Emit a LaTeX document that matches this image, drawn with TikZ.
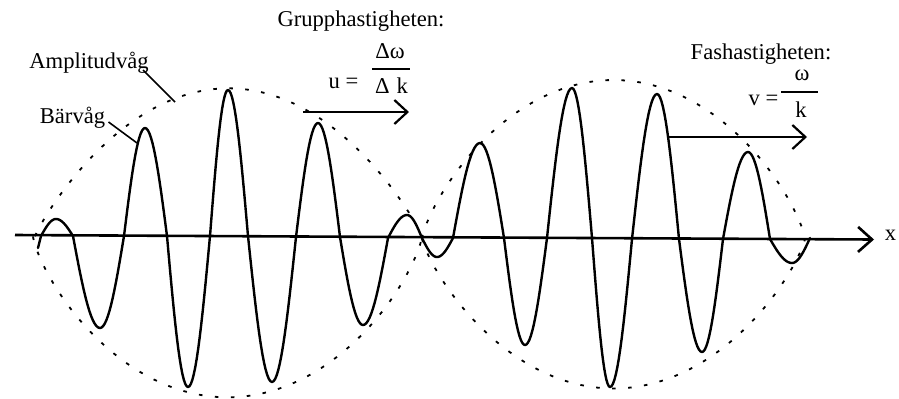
\documentclass[tikz,border=0pt]{standalone}
\usepackage{fontspec}
\setmainfont{Liberation Serif}
\usetikzlibrary{arrows.meta,calc}
\begin{document}
\begin{tikzpicture}[x=0.5pt,y=-0.5pt,
  lbl/.style={inner sep=0pt, anchor=base, font=\fontsize{11.3}{13}\selectfont},
  wave/.style={line width=1.2pt, line join=round, line cap=round},
  env/.style={line width=0.9pt, dash pattern=on 1.8pt off 6.2pt},
  axisline/.style={line width=1.3pt, -{Straight Barb[length=7pt,width=12.5pt]}},
  vel/.style={line width=1.1pt, -{Straight Barb[length=6.5pt,width=12pt]}},
  leader/.style={line width=0.8pt},
  fracbar/.style={line width=0.7pt}]
\useasboundingbox (0,0) rectangle (899,398);

% envelope (amplitude wave)
\draw[env] plot[domain=0.5:179.5, samples=140, variable=\t]
  ({228.5-193.5*cos(\t)}, {236.3-148*(sin(\t))^1.8});
\draw[env] plot[domain=0.5:179.5, samples=140, variable=\t]
  ({227.5-194.5*cos(\t)}, {236.3+161*(sin(\t))^1.52});
\draw[env] plot[domain=0.5:179.5, samples=140, variable=\t]
  ({613.5-191.5*cos(\t)}, {238.5-158.5*(sin(\t))^1.55});
\draw[env] plot[domain=0.5:179.5, samples=140, variable=\t]
  ({613.5-191.5*cos(\t)}, {238.5+150*(sin(\t))^1.6});

% x axis
\coordinate (ax0) at (15,235);
\coordinate (ax1) at (874,239.5);
\draw[axisline] (ax0) -- (ax1);
\node[lbl] (xlab) at (890.5,240) {x};

% carrier wave (quarter-sine pieces between crossings and extremes)
\draw[wave] (38,248) -- (41,236)
 \foreach \xa/\ya/\xb/\yb/\m in {
  41/236/56/219/0, 56/219/73/236/1, 73/236/100/328/0, 100/328/124/236/1,
  124/236/145/128/0, 145/128/167/236/1, 167/236/188/387/0, 188/387/210/236/1,
  210/236/228/90/0, 228/90/248/236/1, 248/236/272/382/0, 272/382/296/237/1,
  296/237/318/123/0, 318/123/340/237/1, 340/237/363/325/0, 363/325/388/238/1,
  388/238/407/215/0, 407/215/422/238/1, 422/238/437/257/0, 437/257/453/238/1,
  453/238/480/143/0, 480/143/504/238/1, 504/238/525/345/0, 525/345/547/238/1,
  547/238/572/88/0, 572/88/592/238/1, 592/238/610/387/0, 610/387/632/239/1,
  632/239/657/94/0, 657/94/679/239/1, 679/239/702/352/0, 702/352/723/239/1,
  723/239/748/152/0, 748/152/770/239/1, 770/239/792/263/0, 792/263/810/238/1}
 { -- plot[domain=0:90, samples=16, variable=\t]
     ({\xa+(\xb-\xa)*\t/90}, {\ya+(\yb-\ya)*((1-\m)*sin(\t)+\m*(1-cos(\t)))}) };

% labels
\node[lbl] (grp) at (361,26) {Grupphastigheten:};
\node[lbl] (fas) at (761,59) {Fashastigheten:};
\node[lbl] (amp) at (89,68) {Amplitudvåg};
\node[lbl] (bar) at (72.5,123) {Bärvåg};

\coordinate (ampend) at (175,102);
\coordinate (barend) at (137,143);
\draw[leader] ($(amp.base east)+(-6,2)$) -- (ampend);
\draw[leader] ($(bar.base east)+(3,-1)$) -- (barend);

% group velocity
\node[lbl] (ueq) at (343.5,88) {u =};
\node[lbl] (unum) at (390,58) {Δω};
\node[lbl] (uden) at (391.5,93) {Δ\hspace{0.3em}k};
\draw[fracbar] (372,69) -- (410,69);
\coordinate (u0) at (303,112);
\coordinate (u1) at (409,112);
\draw[vel] (u0) -- (u1);

% phase velocity
\node[lbl] (veq) at (763.5,105) {v =};
\node[lbl] (vnum) at (802,80) {ω};
\node[lbl] (vden) at (801,117) {k};
\draw[fracbar] (781,92) -- (818,92);
\coordinate (v0) at (668,137);
\coordinate (v1) at (807,137);
\draw[vel] (v0) -- (v1);
\end{tikzpicture}
\end{document}
